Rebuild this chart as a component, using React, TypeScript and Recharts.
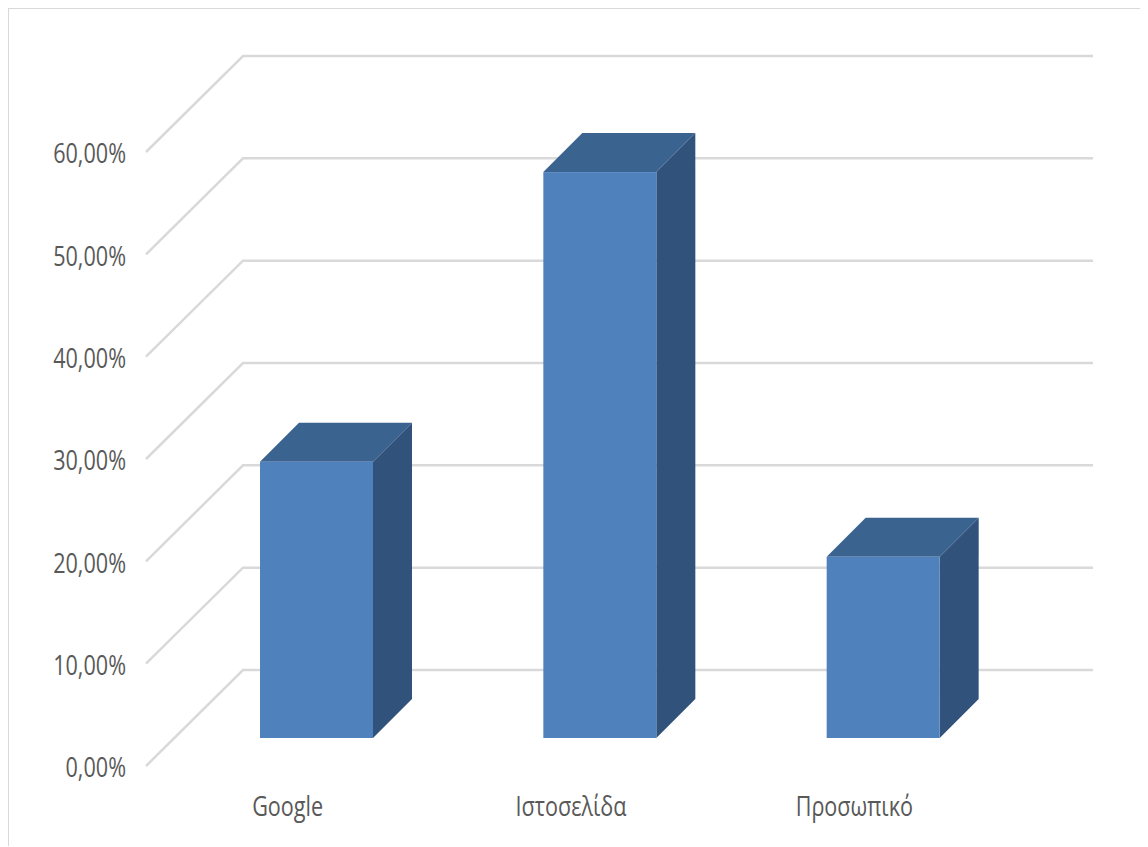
import { BarChart, Bar, XAxis, YAxis, CartesianGrid } from "recharts"

const categories = ["Google", "Ιστοσελίδα", "Προσωπικό"]
const shares = [27.0, 55.3, 17.7]
const yTicks = [0, 10, 20, 30, 40, 50, 60]

const data = categories.map((name, i) => ({ name, value: shares[i] }))

// 3D look: back wall offset from the front plane, and bar offset / depth
const WALL_DX = 97
const WALL_DY = -96
const BAR_DX = 29
const BAR_DY = -28
const BAR_DEPTH = 39

const FONT = '"Open Sans", sans-serif'
const SQUASH = 0.8

function fmtPct(v: number) {
  return v.toFixed(2).replace(".", ",") + "%"
}

function WallLine(props: any) {
  const { x1, y1, x2 } = props
  const d = `M${x1},${y1} L${x1 + WALL_DX},${y1 + WALL_DY} L${x2 + WALL_DX},${y1 + WALL_DY}`
  return <path d={d} fill="none" stroke="#d9d9d9" strokeWidth={2.5} />
}

function Box(props: any) {
  const { x, y, width, height } = props
  if (height == null || width == null) return null
  const fx = x + BAR_DX
  const fy = y + BAR_DY
  const d = BAR_DEPTH
  const top = `${fx},${fy} ${fx + d},${fy - d} ${fx + width + d},${fy - d} ${fx + width},${fy}`
  const side = `${fx + width},${fy} ${fx + width + d},${fy - d} ${fx + width + d},${fy + height - d} ${fx + width},${fy + height}`
  return (
    <g>
      <polygon points={side} fill="#31527b" />
      <polygon points={top} fill="#3b6390" />
      <rect x={fx} y={fy} width={width} height={height} fill="#4f81bd" />
    </g>
  )
}

// narrow, tall labels like the original Calibri text
function Label(props: { x: number; y: number; anchor: string; text: string }) {
  return (
    <text
      transform={`translate(${props.x},${props.y}) scale(${SQUASH},1)`}
      textAnchor={props.anchor}
      dominantBaseline="middle"
      fill="#595959"
      fontSize={27}
      fontFamily={FONT}
    >
      {props.text}
    </text>
  )
}

function YTick(props: any) {
  const { x, y, payload } = props
  return <Label x={x - 18} y={y + 4} anchor="end" text={fmtPct(payload.value)} />
}

function XTick(props: any) {
  const { x, y, payload } = props
  return <Label x={x} y={y + 41} anchor="middle" text={payload.value} />
}

export default function App() {
  return (
    <div
      style={{
        position: "relative",
        width: 1140,
        height: 839,
        boxSizing: "border-box",
        borderTop: "2px solid #d9d9d9",
        borderLeft: "2px solid #d9d9d9",
        margin: "-1px 0 0 -1px",
      }}
    >
      <div style={{ position: "absolute", left: -1, top: -1 }}>
        <BarChart
          width={1140}
          height={839}
          data={data}
          margin={{ top: 144, right: 152, bottom: 21, left: 38 }}
          barSize={113}
        >
          <CartesianGrid vertical={false} horizontal={(p: any) => <WallLine {...p} />} />
          <XAxis dataKey="name" axisLine={false} tickLine={false} tickSize={0} height={60} tick={(p: any) => <XTick {...p} />} />
          <YAxis
            domain={[0, 60]}
            ticks={yTicks}
            axisLine={false}
            tickLine={false}
            tickSize={0}
            width={100}
            tick={(p: any) => <YTick {...p} />}
          />
          <Bar dataKey="value" shape={(p: any) => <Box {...p} />} isAnimationActive={false} />
        </BarChart>
      </div>
    </div>
  )
}
